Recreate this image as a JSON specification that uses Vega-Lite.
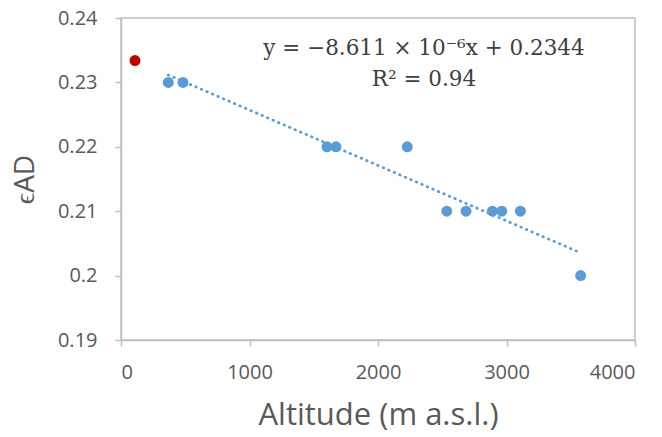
{
  "$schema": "https://vega.github.io/schema/vega-lite/v6.json",
  "width": 514,
  "height": 322,
  "autosize": {"type": "none"},
  "padding": {"left": 121, "top": 18, "right": 27, "bottom": 97},
  "background": "white",
  "config": {
    "view": {"stroke": "#BFBFBF", "strokeWidth": 1.5},
    "axis": {
      "labelFont": "Open Sans",
      "titleFont": "Open Sans",
      "labelColor": "#595959",
      "titleColor": "#595959",
      "domainColor": "#BFBFBF",
      "domainWidth": 1.5,
      "tickColor": "#BFBFBF",
      "tickWidth": 1.5,
      "tickSize": 6,
      "grid": false,
      "titleFontWeight": "normal"
    }
  },
  "datasets": {
    "points": [
      {"altitude": 109, "eps": 0.2334, "group": "ref"},
      {"altitude": 368, "eps": 0.23, "group": "site"},
      {"altitude": 482, "eps": 0.23, "group": "site"},
      {"altitude": 1603, "eps": 0.22, "group": "site"},
      {"altitude": 1673, "eps": 0.22, "group": "site"},
      {"altitude": 2228, "eps": 0.22, "group": "site"},
      {"altitude": 2535, "eps": 0.21, "group": "site"},
      {"altitude": 2685, "eps": 0.21, "group": "site"},
      {"altitude": 2890, "eps": 0.21, "group": "site"},
      {"altitude": 2963, "eps": 0.21, "group": "site"},
      {"altitude": 3108, "eps": 0.21, "group": "site"},
      {"altitude": 3577, "eps": 0.2, "group": "site"}
    ],
    "notes": [
      {"altitude": 2358, "eps": 0.2352, "label": "y = −8.611 × 10⁻⁶x + 0.2344"},
      {"altitude": 2358, "eps": 0.2303, "label": "R² = 0.94"}
    ]
  },
  "encoding": {
    "x": {
      "field": "altitude",
      "type": "quantitative",
      "scale": {"domain": [0, 4000], "nice": false},
      "axis": {
        "title": "Altitude (m a.s.l.)",
        "values": [0, 1000, 2000, 3000, 4000],
        "format": "d",
        "labelFontSize": 20,
        "titleFontSize": 31,
        "labelPadding": 16,
        "titlePadding": 18
      }
    },
    "y": {
      "field": "eps",
      "type": "quantitative",
      "scale": {"domain": [0.19, 0.24], "nice": false, "zero": false},
      "axis": {
        "title": "ϵAD",
        "values": [0.19, 0.2, 0.21, 0.22, 0.23, 0.24],
        "format": "~g",
        "labelFontSize": 20,
        "titleFontSize": 28,
        "labelPadding": 18,
        "titlePadding": 18
      }
    }
  },
  "layer": [
    {
      "data": {"name": "points"},
      "transform": [
        {"filter": "datum.group === 'site'"},
        {"regression": "eps", "on": "altitude"}
      ],
      "mark": {
        "type": "line",
        "color": "#5B9BD5",
        "strokeWidth": 2.75,
        "strokeDash": [0.5, 5.5],
        "strokeCap": "round"
      },
      "encoding": {}
    },
    {
      "data": {"name": "points"},
      "mark": {"type": "circle", "size": 120, "opacity": 1},
      "encoding": {
        "color": {
          "field": "group",
          "type": "nominal",
          "scale": {"domain": ["ref", "site"], "range": ["#C00000", "#5B9BD5"]},
          "legend": null
        }
      }
    },
    {
      "data": {"name": "notes"},
      "mark": {
        "type": "text",
        "font": "DejaVu Serif",
        "fontSize": 21.5,
        "color": "#404040",
        "align": "center",
        "baseline": "middle"
      },
      "encoding": {"text": {"field": "label"}}
    }
  ]
}
